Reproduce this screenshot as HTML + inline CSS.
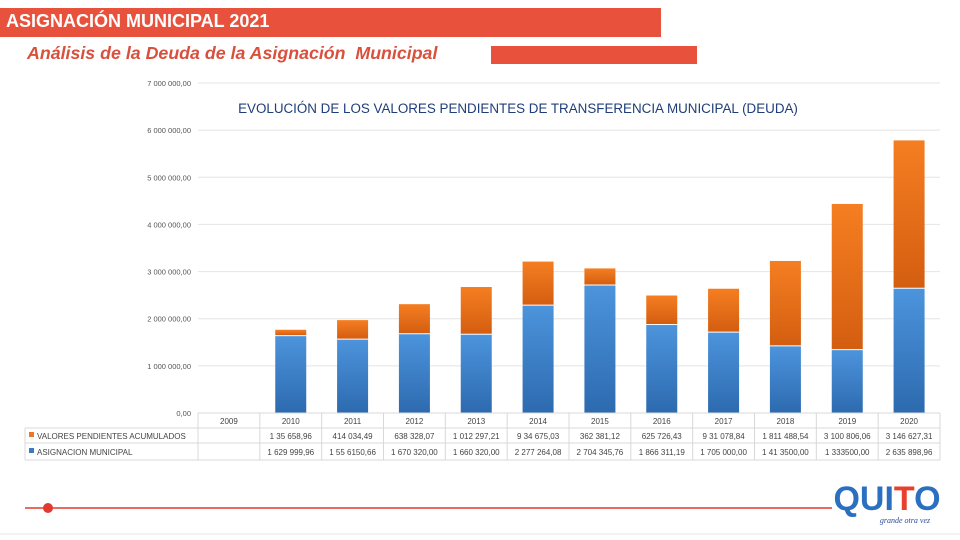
<!DOCTYPE html>
<html><head><meta charset="utf-8"><style>
body{margin:0;width:960px;height:540px;background:#fff;overflow:hidden;position:relative;font-family:"Liberation Sans",sans-serif}
.abs{position:absolute}
</style></head><body>
<div class="abs" style="left:0;top:8px;width:661px;height:29px;background:#e8523c"></div>
<div class="abs" style="left:6px;top:11px;font-size:18px;font-weight:bold;color:#fff">ASIGNACIÓN MUNICIPAL 2021</div>
<div class="abs" style="left:27px;top:43px;font-size:17.8px;font-weight:bold;font-style:italic;color:#d9503c">Análisis de la Deuda de la Asignación&nbsp; Municipal</div>
<div class="abs" style="left:491px;top:46px;width:206px;height:18px;background:#e8523c"></div>
<svg class="abs" style="left:0;top:0" width="960" height="540">
<text x="518" y="113" text-anchor="middle" font-size="13.4" fill="#1f3d7a" font-family="Liberation Sans,sans-serif">EVOLUCIÓN DE LOS VALORES PENDIENTES DE TRANSFERENCIA MUNICIPAL (DEUDA)</text>
<defs>
<linearGradient id="gb" x1="0" y1="0" x2="0" y2="1"><stop offset="0" stop-color="#4c94dc"/><stop offset="1" stop-color="#2d6aaf"/></linearGradient>
<linearGradient id="go" x1="0" y1="0" x2="0" y2="1"><stop offset="0" stop-color="#f57e22"/><stop offset="1" stop-color="#d45e10"/></linearGradient>
</defs>
<g id="grid"></g><g id="bars"></g><g id="table"></g>
<line x1="25" y1="508" x2="832" y2="508" stroke="#e03a30" stroke-width="1.5"/>
<circle cx="48" cy="508" r="5" fill="#e03a30"/>
<line x1="0" y1="534" x2="960" y2="534" stroke="#e6e6e6" stroke-width="1"/>
<g>
<text x="887" y="510" text-anchor="middle" font-size="34" font-weight="bold" fill="#2a6fc0" font-family="Liberation Sans,sans-serif">QUI<tspan fill="#e8402c">T</tspan>O</text>
<text x="905" y="523" text-anchor="middle" font-size="8" font-style="italic" fill="#2a4a9a" font-family="Liberation Serif,serif">grande otra vez</text>
</g>
</svg>
<script>
const years=["2009","2010","2011","2012","2013","2014","2015","2016","2017","2018","2019","2020"];
const pendientes=[0,135658.96,414034.49,638328.07,1012297.21,934675.03,362381.12,625726.43,931078.84,1811488.54,3100806.06,3146627.31];
const asignacion=[0,1629999.96,1556150.66,1670320.00,1660320.00,2277264.08,2704345.76,1866311.19,1705000.00,1413500.00,1333500.00,2635898.96];
const pendLabels=["","1 35 658,96","414 034,49","638 328,07","1 012 297,21","9 34 675,03","362 381,12","625 726,43","9 31 078,84","1 811 488,54","3 100 806,06","3 146 627,31"];
const asigLabels=["","1 629 999,96","1 55 6150,66","1 670 320,00","1 660 320,00","2 277 264,08","2 704 345,76","1 866 311,19","1 705 000,00","1 41 3500,00","1 333500,00","2 635 898,96"];
const yTicks=[0,1000000,2000000,3000000,4000000,5000000,6000000,7000000];
const yTickLabels=["0,00","1 000 000,00","2 000 000,00","3 000 000,00","4 000 000,00","5 000 000,00","6 000 000,00","7 000 000,00"];
const NS="http://www.w3.org/2000/svg";
const y0=413,y1=83,yMax=7000000,colL=198,colW=(940-198)/12;
const Y=v=>y0-(v/yMax)*(y0-y1);
const X=i=>colL+colW*(i+0.5);
function mk(t,a,p){const e=document.createElementNS(NS,t);for(const k in a)e.setAttribute(k,a[k]);p.appendChild(e);return e;}
const grid=document.getElementById('grid'),bars=document.getElementById('bars'),tb=document.getElementById('table');
yTicks.forEach((v,i)=>{
 const l=mk('line',{x1:198,x2:940,y1:Y(v),y2:Y(v),stroke:'#e4e4e4'},grid);
 
 
 const t=mk('text',{x:191,y:Y(v)+3,'text-anchor':'end','font-size':'7.5',fill:'#555','font-family':'Liberation Sans,sans-serif'},grid);
 t.textContent=yTickLabels[i];
 
 
});
years.forEach((yr,i)=>{
 const cx=X(i),w=31;
 if(asignacion[i]>0){
  const b=mk('rect',{x:cx-w/2,y:Y(asignacion[i]),width:w,height:y0-Y(asignacion[i]),fill:'url(#gb)'},bars);
  
  
 }
 if(pendientes[i]>0){
  const top=Y(asignacion[i]+pendientes[i]);
  const o=mk('rect',{x:cx-w/2,y:top,width:w,height:Y(asignacion[i])-top-1,fill:'url(#go)'},bars);
  
  
 }
});
[[198,940,413],[25,940,428],[25,940,443],[25,940,460]].forEach(r=>mk('line',{x1:r[0],x2:r[1],y1:r[2],y2:r[2],stroke:'#d8d8d8'},tb));
mk('line',{x1:25,x2:25,y1:428,y2:460,stroke:'#d8d8d8'},tb);
for(let i=0;i<=12;i++)mk('line',{x1:colL+colW*i,x2:colL+colW*i,y1:413,y2:460,stroke:'#d8d8d8'},tb);
const fs={'font-size':'8',fill:'#444','font-family':'Liberation Sans,sans-serif','text-anchor':'middle'};
years.forEach((yr,i)=>{
 const t=mk('text',Object.assign({x:X(i),y:424},fs),tb);t.textContent=yr;
 
 
 const a=mk('text',Object.assign({x:X(i),y:439},fs),tb);a.textContent=pendLabels[i];
 
 
 const b=mk('text',Object.assign({x:X(i),y:455},fs),tb);b.textContent=asigLabels[i];
 
 
});
const r1=mk('rect',{x:29,y:432,width:5,height:5,fill:'#ee7722'},tb);


const l1=mk('text',{x:37,y:439,'font-size':'8',fill:'#444','font-family':'Liberation Sans,sans-serif'},tb);l1.textContent='VALORES PENDIENTES ACUMULADOS';


const r2=mk('rect',{x:29,y:448,width:5,height:5,fill:'#3a7ac4'},tb);


const l2=mk('text',{x:37,y:455,'font-size':'8',fill:'#444','font-family':'Liberation Sans,sans-serif'},tb);l2.textContent='ASIGNACION MUNICIPAL';


</script>
</body></html>
